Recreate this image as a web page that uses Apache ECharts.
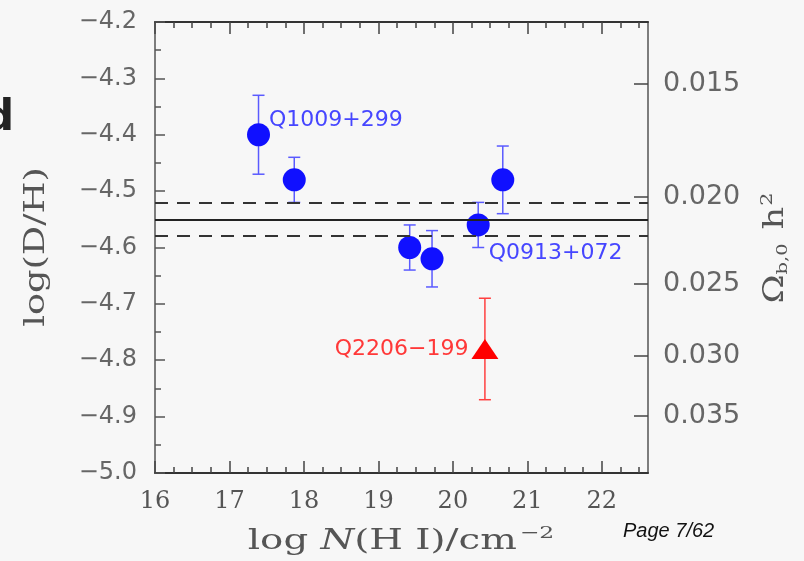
<!DOCTYPE html>
<html><head><meta charset="utf-8">
<script src="https://cdn.jsdelivr.net/npm/echarts@6/dist/echarts.min.js"></script>
<style>html,body{margin:0;padding:0;background:#f7f7f7}#c{width:804px;height:561px}</style>
</head><body><div id="c"></div><script>
// ---- data ----
const blueNames = ['Q1009+299', '', '', '', 'Q0913+072', ''];
const blueX = [17.39, 17.87, 19.42, 19.72, 20.34, 20.67];
const blueY = [-4.40, -4.48, -4.60, -4.62, -4.56, -4.48];
const blueErr = [0.07, 0.04, 0.04, 0.05, 0.04, 0.06];
const redNames = ['Q2206\u2212199'];
const redX = [20.43];
const redY = [-4.78];
const redErr = [0.09];
const meanLine = [-4.55];
const bandLines = [-4.52, -4.58];
const xMajorTicks = [16, 17, 18, 19, 20, 21, 22];
const xMinorTicks = [16.25, 16.5, 16.75, 17.25, 17.5, 17.75, 18.25, 18.5, 18.75, 19.25, 19.5, 19.75,
  20.25, 20.5, 20.75, 21.25, 21.5, 21.75, 22.25, 22.5];
const omegaTicks = [0.015, 0.020, 0.025, 0.030, 0.035];

// conversion between Omega_b h^2 and log(D/H)
const omegaToLogDH = o => -4.51 - 1.6 * Math.log10(o / 0.02);
const logDHToOmega = v => 0.02 * Math.pow(10, (-4.51 - v) / 1.6);

const X_MIN = 16, X_MAX = 22.62, Y_MIN = -5.0, Y_MAX = -4.2;

const chart = echarts.init(document.getElementById('c'), null, {renderer: 'canvas'});

function errRender(color, capHalf) {
  return function (params, api) {
    const x = api.value(0), lo = api.value(2), hi = api.value(3);
    const t = api.coord([x, hi]), b = api.coord([x, lo]);
    const st = {stroke: color, lineWidth: 1.5};
    return {type: 'group', children: [
      {type: 'line', shape: {x1: t[0], y1: t[1], x2: b[0], y2: b[1]}, style: st},
      {type: 'line', shape: {x1: t[0] - capHalf, y1: t[1], x2: t[0] + capHalf, y2: t[1]}, style: st},
      {type: 'line', shape: {x1: b[0] - capHalf, y1: b[1], x2: b[0] + capHalf, y2: b[1]}, style: st}
    ]};
  };
}

const frame = {show: true, lineStyle: {color: '#333', width: 2}};
const baseX = {type: 'value', min: X_MIN, max: X_MAX, splitLine: {show: false}, gridIndex: 0};
const titleColor = '#555';
const serif = 'DejaVu Serif';

const option = {
  backgroundColor: '#f7f7f7',
  animation: false,
  grid: {left: 155, right: 156, top: 22, bottom: 88, containLabel: false, outerBoundsMode: 'none'},
  xAxis: [
    Object.assign({}, baseX, {
      position: 'bottom', axisLine: frame,
      axisTick: {show: true, inside: true, length: 12, customValues: xMajorTicks, lineStyle: {color: '#444', width: 1.5}},
      axisLabel: {show: true, customValues: xMajorTicks, margin: 17, color: '#555',
        fontFamily: serif, fontSize: 24}
    }),
    Object.assign({}, baseX, {
      position: 'bottom', axisLine: {show: false}, axisLabel: {show: false},
      axisTick: {show: true, inside: true, length: 6, customValues: xMinorTicks, lineStyle: {color: '#444', width: 1.5}}
    }),
    Object.assign({}, baseX, {
      position: 'top', axisLine: frame, axisLabel: {show: false},
      axisTick: {show: true, inside: true, length: 12, customValues: xMajorTicks, lineStyle: {color: '#444', width: 1.5}}
    }),
    Object.assign({}, baseX, {
      position: 'top', axisLine: {show: false}, axisLabel: {show: false},
      axisTick: {show: true, inside: true, length: 6, customValues: xMinorTicks, lineStyle: {color: '#444', width: 1.5}}
    })
  ],
  yAxis: [
    {
      type: 'value', min: Y_MIN, max: Y_MAX, interval: 0.1, position: 'left',
      splitLine: {show: false},
      axisLine: {show: true, lineStyle: {color: '#555', width: 1.5}},
      axisTick: {show: true, inside: true, length: 10, lineStyle: {color: '#555', width: 1.5}},
      minorTick: {show: true, splitNumber: 2, length: 6, lineStyle: {color: '#555', width: 1.5}},
      axisLabel: {margin: 18, color: '#666', fontFamily: 'DejaVu Sans', fontSize: 24,
        formatter: v => v.toFixed(1).replace('-', '\u2212')}
    },
    {
      type: 'value', min: Y_MIN, max: Y_MAX, position: 'right',
      splitLine: {show: false},
      axisLine: {show: true, lineStyle: {color: '#555', width: 1.5}},
      axisTick: {show: true, inside: true, length: 14, customValues: omegaTicks.map(omegaToLogDH),
        lineStyle: {color: '#444', width: 1.5}},
      axisLabel: {show: true, customValues: omegaTicks.map(omegaToLogDH), margin: 15, color: '#666',
        fontFamily: 'DejaVu Sans', fontSize: 27,
        formatter: v => logDHToOmega(v).toFixed(3)}
    }
  ],
  series: [
    {
      type: 'line', data: [], xAxisIndex: 0, yAxisIndex: 0, z: 1, silent: true,
      markLine: {
        symbol: 'none', silent: true, label: {show: false},
        data: meanLine.map(v => ({yAxis: v, lineStyle: {color: '#222', width: 2, type: 'solid'}}))
          .concat(bandLines.map(v => ({yAxis: v, lineStyle: {color: '#333', width: 1.8, type: [13, 9]}})))
      }
    },
    {
      type: 'custom', xAxisIndex: 0, yAxisIndex: 0, z: 3,
      renderItem: errRender('#5a5aff', 6),
      encode: {x: 0, y: 1},
      data: blueX.map((x, i) => [x, blueY[i], blueY[i] - blueErr[i], blueY[i] + blueErr[i]])
    },
    {
      type: 'scatter', xAxisIndex: 0, yAxisIndex: 0, z: 4,
      symbol: 'circle', symbolSize: 23,
      itemStyle: {color: '#1010ff', opacity: 1},
      data: blueX.map((x, i) => ({value: [x, blueY[i]], name: blueNames[i]})),
      label: {show: true, formatter: p => p.name, color: '#4646ff',
        fontFamily: 'DejaVu Sans', fontSize: 22, position: 'right', distance: -1},
      labelLayout: function (params) {
        if (params.dataIndex === 0) return {dy: -14};
        if (params.dataIndex === 4) return {dy: 28};
        return {};
      }
    },
    {
      type: 'custom', xAxisIndex: 0, yAxisIndex: 0, z: 3,
      renderItem: errRender('#ff4040', 6),
      encode: {x: 0, y: 1},
      data: redX.map((x, i) => [x, redY[i], redY[i] - redErr[i], redY[i] + redErr[i]])
    },
    {
      type: 'scatter', xAxisIndex: 0, yAxisIndex: 0, z: 4,
      symbol: 'triangle', symbolSize: [27, 20],
      itemStyle: {color: '#ff0000', opacity: 1},
      data: redX.map((x, i) => ({value: [x, redY[i]], name: redNames[i]})),
      label: {show: true, formatter: p => p.name, color: '#ff3838',
        fontFamily: 'DejaVu Sans', fontSize: 22, position: 'left', distance: 3}
    }
  ],
  graphic: [
    // left axis title
    {type: 'text', x: 37, y: 247, rotation: Math.PI / 2, scaleX: 1.31,
      style: {text: 'log(D/H)', fontFamily: serif, fontSize: 28, fill: titleColor,
        align: 'center', verticalAlign: 'middle'}},
    // right axis title
    {type: 'text', x: 776, y: 248, rotation: Math.PI / 2, scaleX: 1.3,
      style: {text: '{a|\u03a9}{b|b,0}{a| h}{s|2}', align: 'center', verticalAlign: 'middle',
        rich: {
          a: {fontFamily: serif, fontSize: 27, fill: titleColor},
          b: {fontFamily: serif, fontSize: 15, fill: titleColor, padding: [14, 2, 0, 0]},
          s: {fontFamily: serif, fontSize: 16, fill: titleColor, padding: [0, 0, 16, 1]}
        }}},
    // bottom axis title
    {type: 'text', x: 401, y: 542, scaleX: 1.38,
      style: {text: '{a|log }{i|N}{a|(H I)/cm}{s|\u22122}', align: 'center', verticalAlign: 'middle',
        rich: {
          a: {fontFamily: serif, fontSize: 28, fill: titleColor},
          i: {fontFamily: serif, fontStyle: 'italic', fontSize: 28, fill: titleColor},
          s: {fontFamily: serif, fontSize: 17, fill: titleColor, padding: [0, 0, 17, 2]}
        }}},
    {type: 'text', left: 623, top: 521, style: {text: 'Page 7/62', fontFamily: 'Liberation Sans',
      fontStyle: 'italic', fontSize: 20, fill: '#111'}},
    {type: 'text', left: -16, top: 98, style: {text: 'd', fontFamily: 'DejaVu Sans',
      fontWeight: 'bold', fontSize: 42, fill: '#222'}}
  ]
};
chart.setOption(option);
</script></body></html>
